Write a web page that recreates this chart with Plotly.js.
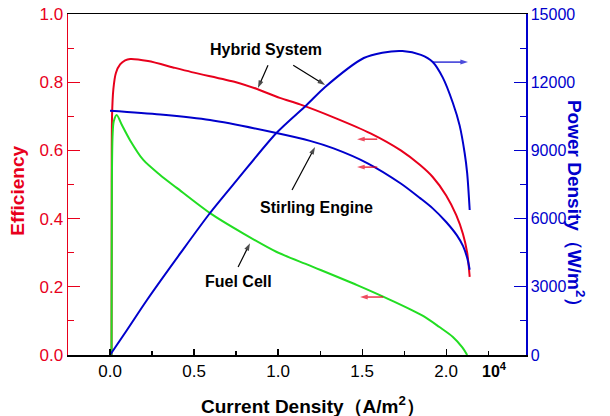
<!DOCTYPE html>
<html>
<head>
<meta charset="utf-8">
<script src="https://cdn.plot.ly/plotly-3.0.1.min.js"></script>
<style>html,body{margin:0;padding:0;background:#fff;}#chart{width:610px;height:416px;}</style>
</head>
<body>
<div id="chart"></div>
<script>
// Current density in units of 10^4 A/m^2
const hybridX   = [0.009, 0.010, 0.012, 0.02, 0.035, 0.06, 0.09, 0.12, 0.226, 0.387, 0.5, 0.75, 0.875, 1.01, 1.13, 1.33, 1.55, 1.73, 1.845, 1.92, 2.0, 2.06, 2.1, 2.125, 2.14];
const hybridEff = [0.0, 0.40, 0.70, 0.78, 0.827, 0.852, 0.864, 0.868, 0.862, 0.842, 0.828, 0.80, 0.78, 0.754, 0.735, 0.697, 0.650, 0.600, 0.557, 0.522, 0.468, 0.41, 0.355, 0.30, 0.229];

const stirlingX   = [0.0, 0.3, 0.595, 0.99, 1.19, 1.33, 1.53, 1.73, 1.845, 1.92, 2.0, 2.065, 2.1, 2.125, 2.14];
const stirlingEff = [0.716, 0.705, 0.689, 0.651, 0.628, 0.606, 0.563, 0.503, 0.46, 0.43, 0.39, 0.35, 0.32, 0.285, 0.25];

const fuelX   = [0.009, 0.011, 0.015, 0.022, 0.04, 0.07, 0.119, 0.198, 0.298, 0.397, 0.595, 0.794, 0.992, 1.19, 1.47, 1.67, 1.865, 1.96, 2.04, 2.095, 2.125];
const fuelEff = [0.0, 0.50, 0.64, 0.685, 0.704, 0.675, 0.630, 0.572, 0.528, 0.490, 0.416, 0.356, 0.302, 0.262, 0.205, 0.161, 0.114, 0.082, 0.053, 0.023, 0.0];

const powerX = [0.0, 0.1, 0.22, 0.42, 0.595, 0.756, 0.99, 1.17, 1.28, 1.51, 1.62, 1.74, 1.85, 1.92, 1.98, 2.04, 2.08, 2.11, 2.125, 2.14];
const powerP = [0, 1090, 2420, 4490, 6246, 7700, 9765, 10997, 11790, 13065, 13300, 13372, 13200, 12890, 12200, 11085, 10100, 8886, 8000, 6378];

const xTickVals = [0, 0.5, 1.0, 1.5, 2.0];
const xTickText = ["0.0", "0.5", "1.0", "1.5", "2.0"];
const effTickVals = [0, 0.2, 0.4, 0.6, 0.8, 1.0];
const effTickText = ["0.0", "0.2", "0.4", "0.6", "0.8", "1.0"];
const powTickVals = [0, 3000, 6000, 9000, 12000, 15000];
const powTickText = ["0", "3000", "6000", "9000", "12000", "15000"];

const RED = "#e8001c", BLUE = "#0000cc", GREEN = "#22dd22";
const F = "Liberation Sans, Arial, sans-serif";

function curve(x, y, color, name, axis) {
  return {x: x, y: y, mode: "lines", line: {color: color, width: 2, shape: "spline", smoothing: 0.8},
          name: name, yaxis: axis, hoverinfo: "skip"};
}

const traces = [
  curve(hybridX, hybridEff, RED, "Hybrid System", "y"),
  curve(stirlingX, stirlingEff, BLUE, "Stirling Engine", "y"),
  curve(fuelX, fuelEff, GREEN, "Fuel Cell", "y"),
  curve(powerX, powerP, BLUE, "Power Density", "y2")
];

// pointer arrows: [tailX, tailY, headX, headY, color]
const pointers = [
  [0.94, 0.850, 0.88, 0.783, "#000"],
  [1.09, 0.850, 1.28, 0.792, "#000"],
  [1.083, 0.484, 1.22, 0.610, "#000"],
  [0.762, 0.258, 0.833, 0.328, "#000"],
  [1.59, 0.633, 1.47, 0.633, RED],
  [1.59, 0.551, 1.47, 0.551, RED],
  [1.625, 0.170, 1.488, 0.170, RED],
  [1.92, 0.859, 2.13, 0.859, BLUE]
];
pointers.forEach(p => {
  traces.push({x: [p[0], p[2]], y: [p[1], p[3]], mode: "lines+markers", yaxis: "y",
    line: {color: p[4], width: 1.2}, hoverinfo: "skip",
    marker: {symbol: "arrow", size: [0, 8], angleref: "previous", color: p[4], line: {width: 0}}});
});

function label(x, y, t) {
  return {x: x, y: y, xref: "x", yref: "y", text: "<b>" + t + "</b>", showarrow: false,
          font: {family: F, size: 16, color: "#000"}};
}

const annotations = [
  label(0.93, 0.897, "Hybrid System"),
  label(1.226, 0.434, "Stirling Engine"),
  label(0.762, 0.217, "Fuel Cell"),
  {x: 0.962, y: -0.079, xref: "paper", yref: "paper", text: "<b>10<sup>4</sup></b>", showarrow: false,
   font: {family: F, size: 16, color: "#000"}},
  {x: 0.535, y: -0.148, xref: "paper", yref: "paper", yanchor: "middle", text: "<b>Current Density（A/m<sup>2</sup>）</b>", showarrow: false,
   font: {family: F, size: 19, color: "#000"}},
  {x: -0.137, y: 0.481, xref: "paper", yref: "paper", text: "<b>Efficiency</b>", showarrow: false, textangle: -90,
   font: {family: F, size: 19, color: RED}},
  {x: 1.14, y: 0.431, xref: "paper", yref: "paper", text: "<b>Power Density（W/m<sup>2</sup>）</b>", showarrow: false, textangle: 90,
   font: {family: F, size: 19, color: BLUE}}
];

const layout = {
  width: 610, height: 416,
  margin: {l: 68, r: 84, t: 14, b: 61},
  paper_bgcolor: "#fff", plot_bgcolor: "#fff",
  showlegend: false,
  font: {family: F},
  xaxis: {
    range: [-0.25, 2.475], showgrid: false, zeroline: false,
    showline: true, linecolor: "#000", linewidth: 1.5, mirror: true,
    ticks: "inside", ticklen: 6, tickcolor: "#000", tickwidth: 1.2,
    tickvals: xTickVals, ticktext: xTickText,
    minor: {dtick: 0.25, tick0: 0, ticks: "inside", ticklen: 4, tickcolor: "#000", tickwidth: 1.2},
    tickfont: {family: F, size: 17, color: "#000"}
  },
  yaxis: {
    range: [0, 1.0], showgrid: false, zeroline: false,
    showline: true, linecolor: RED, linewidth: 1.5,
    ticks: "inside", ticklen: 12, tickcolor: RED, tickwidth: 1.2,
    tickvals: effTickVals, ticktext: effTickText,
    minor: {dtick: 0.1, tick0: 0, ticks: "inside", ticklen: 6, tickcolor: RED, tickwidth: 1.2},
    tickfont: {family: F, size: 17, color: RED}
  },
  yaxis2: {
    range: [0, 15000], overlaying: "y", side: "right", showgrid: false, zeroline: false,
    showline: true, linecolor: BLUE, linewidth: 1.5,
    ticks: "inside", ticklen: 12, tickcolor: BLUE, tickwidth: 1.2,
    tickvals: powTickVals, ticktext: powTickText,
    minor: {dtick: 1500, tick0: 0, ticks: "inside", ticklen: 6, tickcolor: BLUE, tickwidth: 1.2},
    tickfont: {family: F, size: 16, color: BLUE}
  },
  annotations: annotations
};

Plotly.newPlot("chart", traces, layout, {staticPlot: true, displayModeBar: false});
</script>
</body>
</html>
